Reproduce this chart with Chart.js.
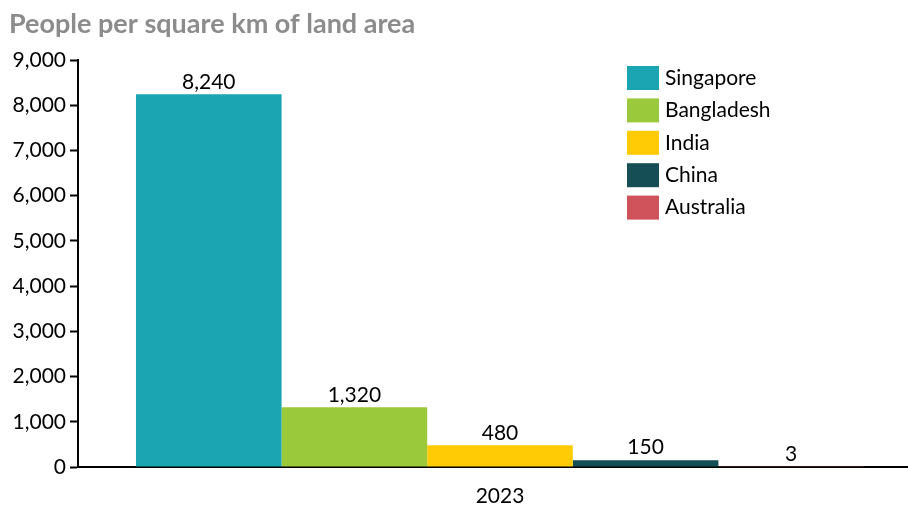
<!DOCTYPE html>
<html>
<head>
<meta charset="utf-8">
<script src="https://cdn.jsdelivr.net/npm/chart.js@4.4.0/dist/chart.umd.min.js"></script>
<style>
  html, body { margin: 0; padding: 0; background: #fff; overflow: hidden; }
  #wrap { width: 922px; height: 510px; }
</style>
</head>
<body>
<div id="wrap"><canvas id="density"></canvas></div>
<script>
const years = ["2023"];
const countries = ["Singapore", "Bangladesh", "India", "China", "Australia"];
const density = [8240, 1320, 480, 150, 3];
const colors = ["#1BA5B3", "#9BC93C", "#FFCB05", "#154F55", "#D0525A"];
const chartTitle = "People per square km of land area";

const FONT = "Lato, 'Noto Sans', sans-serif";

// heading, drawn by hand so it can sit a little in from the edge
const heading = {
  id: "heading",
  afterDraw(chart) {
    const ctx = chart.ctx;
    ctx.save();
    ctx.font = "bold 27px " + FONT;
    ctx.fillStyle = "#8C8C8C";
    ctx.textBaseline = "alphabetic";
    ctx.fillText(chartTitle, 9, 33);
    ctx.restore();
  }
};

// value printed above each bar
const valueLabels = {
  id: "valueLabels",
  afterDatasetsDraw(chart) {
    const ctx = chart.ctx;
    ctx.save();
    ctx.font = "21px " + FONT;
    ctx.fillStyle = "#000";
    ctx.textAlign = "center";
    ctx.textBaseline = "bottom";
    chart.data.datasets.forEach((ds, i) => {
      chart.getDatasetMeta(i).data.forEach((bar, j) => {
        ctx.fillText(ds.data[j].toLocaleString("en-US"), bar.x, bar.y - 2);
      });
    });
    ctx.restore();
  }
};

// square-swatch legend in the top right corner
const boxLegend = {
  id: "boxLegend",
  afterDraw(chart) {
    const ctx = chart.ctx;
    ctx.save();
    ctx.font = "21px " + FONT;
    ctx.textBaseline = "middle";
    chart.data.datasets.forEach((ds, i) => {
      const y = 78 + i * 32.4;
      ctx.fillStyle = ds.backgroundColor;
      ctx.fillRect(627, y - 12, 32, 24);
      ctx.fillStyle = "#000";
      ctx.fillText(ds.label, 665, y);
    });
    ctx.restore();
  }
};

new Chart(document.getElementById("density"), {
  type: "bar",
  data: {
    labels: years,
    datasets: countries.map((c, i) => ({
      label: c,
      data: [density[i]],
      backgroundColor: colors[i],
      borderWidth: 0
    }))
  },
  options: {
    responsive: true,
    maintainAspectRatio: false,
    animation: false,
    categoryPercentage: 0.8626,
    barPercentage: 1,
    layout: { padding: { left: 0, right: 0, top: 60, bottom: 0 } },
    plugins: {
      legend: { display: false },
      tooltip: { enabled: false },
      title: { display: false }
    },
    scales: {
      x: {
        grid: { display: false, drawTicks: false },
        border: { display: true, color: "#000", width: 2 },
        ticks: { color: "#000", font: { family: FONT, size: 21 }, padding: 17 },
        afterFit(scale) { scale.height = 43; }
      },
      y: {
        min: 0,
        max: 9000,
        ticks: {
          stepSize: 1000,
          color: "#000",
          padding: 4,
          font: { family: FONT, size: 21 },
          callback: v => v.toLocaleString("en-US")
        },
        grid: { drawOnChartArea: false, drawTicks: true, tickLength: 8, color: "#000", tickWidth: 2 },
        border: { display: true, color: "#000", width: 2 },
        afterFit(scale) { scale.width = 78; }
      }
    }
  },
  plugins: [heading, valueLabels, boxLegend]
});
</script>
</body>
</html>
